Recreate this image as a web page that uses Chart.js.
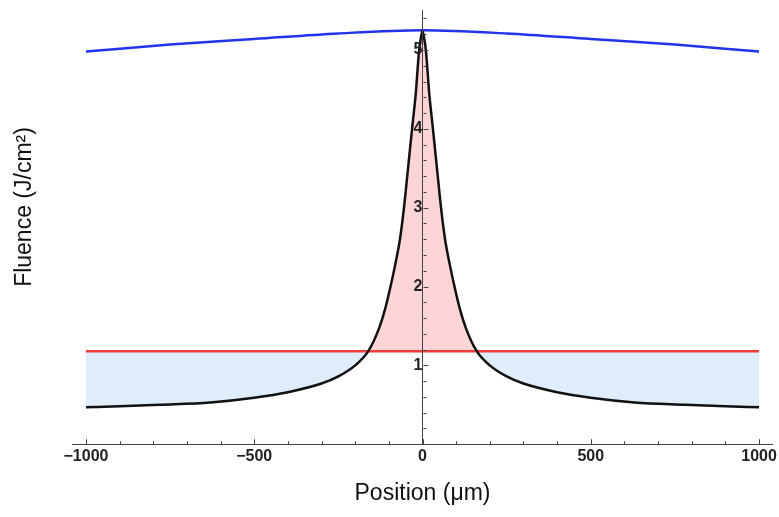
<!DOCTYPE html>
<html lang="en">

<head>
    <meta charset="UTF-8">
    <title>Fluence vs Position</title>
    <script src="https://cdn.jsdelivr.net/npm/chart.js"></script>
    <style>
        html, body { margin: 0; padding: 0; background: #fff; }
        #wrap { width: 779px; height: 517px; }
    </style>
</head>

<body>
    <div id="wrap"><canvas id="myChart"></canvas></div>

    <script>
        // tick labels
        const xTicks = [-1000, -500, 0, 500, 1000];
        const yTicks = [1, 2, 3, 4, 5];

        // black curve: fluence across the spot
        const positions = [-1000, -900, -780, -630, -500, -400, -300, -250, -200, -161, -130, -112, -95, -80, -67, -55, -43, -31, -20, -10, -6, 0,
            6, 10, 20, 31, 43, 55, 67, 80, 95, 112, 130, 161, 200, 250, 300, 400, 500, 630, 780, 900, 1000];
        const fluence = [0.47, 0.48, 0.50, 0.53, 0.59, 0.66, 0.77, 0.86, 1.0, 1.18, 1.46, 1.7, 2.0, 2.3, 2.6, 3.0, 3.5, 4.0, 4.45, 5.0, 5.12, 5.24,
            5.12, 5.0, 4.45, 4.0, 3.5, 3.0, 2.6, 2.3, 2.0, 1.7, 1.46, 1.18, 1.0, 0.86, 0.77, 0.66, 0.59, 0.53, 0.50, 0.48, 0.47];

        // blue curve
        const bluePositions = [-1000, -750, -500, -250, 0, 250, 500, 750, 1000];
        const blueFluence = [4.98, 5.07, 5.14, 5.21, 5.25, 5.21, 5.14, 5.07, 4.98];

        // red threshold line
        const threshold = 1.18;

        const toPoints = (xs, ys) => xs.map((x, i) => ({ x: x, y: ys[i] }));

        // Mathematica style inward ticks + rotated y title
        const axisExtras = {
            id: 'axisExtras',
            afterDraw(chart) {
                const ctx = chart.ctx;
                const xs = chart.scales.x;
                const ys = chart.scales.y;
                const y0 = ys.getPixelForValue(0);
                const x0 = Math.round(xs.getPixelForValue(0)) + 0.5;
                ctx.save();
                ctx.strokeStyle = '#444';
                ctx.lineWidth = 1;
                ctx.beginPath();
                for (let v = -1000; v <= 1000; v += 100) {
                    const px = Math.round(xs.getPixelForValue(v)) + 0.5;
                    const len = v % 500 === 0 ? 5 : 3;
                    ctx.moveTo(px, y0);
                    ctx.lineTo(px, y0 - len);
                }
                for (let k = 1; k <= 27; k++) {
                    const py = Math.round(ys.getPixelForValue(k * 0.2)) + 0.5;
                    const len = k % 5 === 0 ? 5 : 3;
                    ctx.moveTo(x0, py);
                    ctx.lineTo(x0 + len, py);
                }
                ctx.stroke();

                ctx.translate(25, 207);
                ctx.rotate(-Math.PI / 2);
                ctx.fillStyle = '#111';
                ctx.font = '23px "Liberation Sans"';
                ctx.textAlign = 'center';
                ctx.textBaseline = 'middle';
                ctx.fillText('Fluence (J/cm²)', 0, 0);
                ctx.restore();
            }
        };

        const ctx = document.getElementById('myChart');

        new Chart(ctx, {
            type: 'line',
            data: {
                datasets: [{
                    label: 'fluence',
                    data: toPoints(positions, fluence),
                    borderColor: '#111',
                    borderWidth: 2.5,
                    pointRadius: 0,
                    cubicInterpolationMode: 'monotone',
                    fill: {
                        target: 1,
                        above: '#fdd5d6',
                        below: '#deedf9'
                    }
                }, {
                    label: 'threshold',
                    data: positions.map(x => ({ x: x, y: threshold })),
                    borderColor: '#f43c3c',
                    borderWidth: 2.5,
                    pointRadius: 0,
                    fill: false
                }, {
                    label: 'peak',
                    data: toPoints(bluePositions, blueFluence),
                    borderColor: '#2233ee',
                    borderWidth: 2.5,
                    pointRadius: 0,
                    cubicInterpolationMode: 'monotone',
                    fill: false
                }]
            },
            options: {
                responsive: true,
                maintainAspectRatio: false,
                animation: false,
                layout: { padding: { top: 9, right: 6.5, left: 72.5, bottom: 0 } },
                plugins: {
                    legend: { display: false },
                    tooltip: { enabled: false },
                    filler: { drawTime: 'beforeDatasetsDraw' }
                },
                scales: {
                    x: {
                        type: 'linear',
                        position: 'bottom',
                        min: -1040,
                        max: 1040,
                        afterBuildTicks: (s) => { s.ticks = xTicks.map(v => ({ value: v })); },
                        grid: { display: false, drawTicks: true, tickLength: 3 },
                        border: { display: true, color: '#444', width: 1 },
                        ticks: {
                            padding: 0,
                            maxRotation: 0,
                            autoSkip: false,
                            color: '#222',
                            font: { family: 'Liberation Sans', size: 16, weight: 'bold' },
                            callback: (v) => v < 0 ? '\u2212' + Math.abs(v) : String(v)
                        },
                        title: {
                            display: true,
                            text: 'Position (\u03bcm)',
                            color: '#111',
                            font: { family: 'Liberation Sans', size: 23 },
                            padding: { top: 13, bottom: 10 }
                        }
                    },
                    y: {
                        type: 'linear',
                        position: { x: 0 },
                        min: 0,
                        max: 5.5,
                        afterBuildTicks: (s) => { s.ticks = yTicks.map(v => ({ value: v })); },
                        grid: { display: false, drawTicks: true, tickLength: 4 },
                        border: { display: true, color: '#444', width: 1, z: 1 },
                        ticks: {
                            z: 1,
                            padding: 1,
                            autoSkip: false,
                            color: '#222',
                            font: { family: 'Liberation Sans', size: 16, weight: 'bold' }
                        }
                    }
                }
            },
            plugins: [axisExtras]
        });
    </script>
</body>

</html>
